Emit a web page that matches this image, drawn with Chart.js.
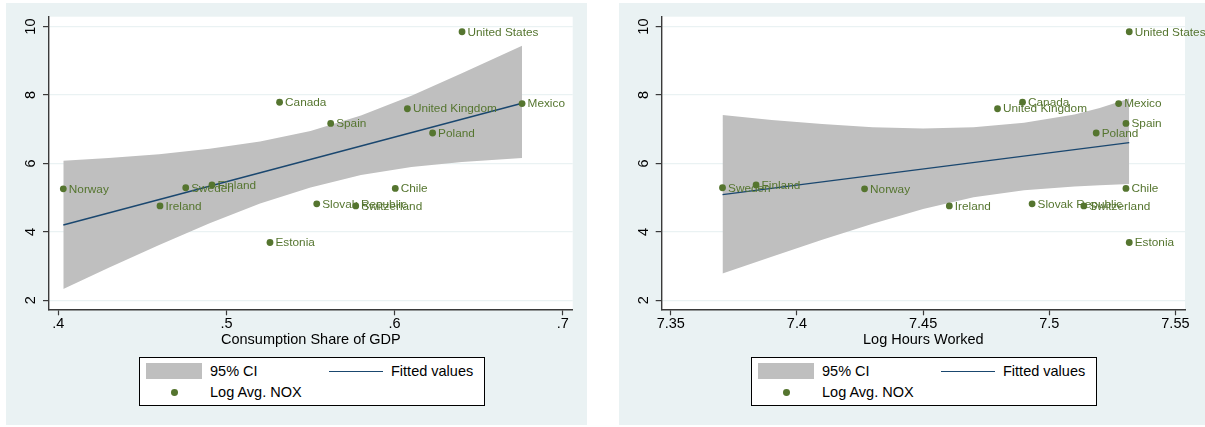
<!DOCTYPE html>
<html>
<head>
<meta charset="utf-8">
<script src="https://cdn.jsdelivr.net/npm/chart.js@4/dist/chart.umd.min.js"></script>
<style>
  body { margin: 0; background: #fff; width: 1205px; height: 427px; position: relative; overflow: hidden; font-family: "Liberation Sans", Arial, sans-serif; }
  .panel { position: absolute; background: rgb(234,242,243); }
  canvas { position: absolute; top: 0; }
  .legend { position: absolute; top: 357px; width: 344px; height: 47px; background: #fff; border: 1px solid #000; }
  .legend div { position: absolute; }
  .legend .txt { font-size: 14.5px; line-height: 18px; height: 18px; color: #000; white-space: nowrap; }
  .legend .box { left: 6px; top: 5px; width: 56px; height: 16px; background: rgb(191,191,191); }
  .legend .ln { left: 189px; top: 13px; width: 54px; height: 1.4px; background: rgb(26,71,111); }
  .legend .dot { left: 31px; top: 31px; width: 6.8px; height: 6.8px; border-radius: 50%; background: rgb(85,117,47); }
</style>
</head>
<body>
<div class="panel" style="left:6px; top:3px; width:581px; height:422px;"></div>
<div class="panel" style="left:619px; top:3px; width:586px; height:422px;"></div>
<canvas id="chart1" width="600" height="427" style="left:0;"></canvas>
<canvas id="chart2" width="605" height="427" style="left:600px;"></canvas>

<div class="legend" style="left:139px;">
  <div class="box"></div><div class="txt" style="left:70px; top:4px;">95% CI</div>
  <div class="ln"></div><div class="txt" style="left:251px; top:4px;">Fitted values</div>
  <div class="dot"></div><div class="txt" style="left:70px; top:25px;">Log Avg. NOX</div>
</div>
<div class="legend" style="left:751px;">
  <div class="box"></div><div class="txt" style="left:70px; top:4px;">95% CI</div>
  <div class="ln"></div><div class="txt" style="left:251px; top:4px;">Fitted values</div>
  <div class="dot"></div><div class="txt" style="left:70px; top:25px;">Log Avg. NOX</div>
</div>

<script>
var countries = ['Norway', 'Sweden', 'Finland', 'Ireland', 'Estonia', 'Canada', 'Spain', 'Slovak Republic',
    'Switzerland', 'Chile', 'United Kingdom', 'Poland', 'Mexico', 'United States'];
var logNox = [5.26, 5.29, 5.37, 4.76, 3.69, 7.79, 7.17, 4.82, 4.76, 5.27, 7.60, 6.89, 7.75, 9.85];
var consShare = [0.403, 0.4758, 0.4914, 0.4605, 0.5259, 0.5316, 0.562, 0.5537, 0.5769, 0.6004, 0.6076, 0.6226, 0.6758, 0.6401];
var logHours = [7.4268, 7.3705, 7.3838, 7.4604, 7.5317, 7.4894, 7.5304, 7.4932, 7.5137, 7.5304, 7.4795, 7.5186, 7.5275, 7.5317];

// fitted line and 95% band, consumption share panel
var fitShareX = [0.403, 0.6758];
var fitShareY = [4.20, 7.76];
var ciShareX = [0.403, 0.43, 0.46, 0.49, 0.52, 0.55, 0.58, 0.61, 0.64, 0.6758];
var ciShareHi = [6.08, 6.16, 6.27, 6.43, 6.64, 6.95, 7.40, 7.98, 8.64, 9.44];
var ciShareLo = [2.33, 2.95, 3.62, 4.25, 4.83, 5.30, 5.66, 5.90, 6.04, 6.16];

// fitted line and 95% band, hours worked panel
var fitHoursX = [7.3705, 7.5317];
var fitHoursY = [5.09, 6.61];
var ciHoursX = [7.3705, 7.39, 7.41, 7.43, 7.45, 7.47, 7.49, 7.51, 7.52, 7.5317];
var ciHoursHi = [7.42, 7.27, 7.15, 7.06, 7.02, 7.06, 7.19, 7.43, 7.62, 7.90];
var ciHoursLo = [2.78, 3.27, 3.77, 4.24, 4.67, 5.01, 5.22, 5.33, 5.36, 5.40];

var noxTicks = [2, 4, 6, 8, 10];
var noxTickLabels = ['2', '4', '6', '8', '10'];
var shareTicks = [0.4, 0.5, 0.6, 0.7];
var shareTickLabels = ['.4', '.5', '.6', '.7'];
var hoursTicks = [7.35, 7.4, 7.45, 7.5, 7.55];
var hoursTickLabels = ['7.35', '7.4', '7.45', '7.5', '7.55'];

var green = 'rgb(85,117,47)';
var navy = 'rgb(26,71,111)';
var ciGray = 'rgb(191,191,191)';
var axisColor = '#3a3a3a';
var gridColor = 'rgb(234,242,243)';

Chart.defaults.font.family = '"Liberation Sans", Arial, sans-serif';
Chart.defaults.color = '#000';

function pairs(xs, ys) {
    return xs.map(function(x, i) { return { x: x, y: ys[i] }; });
}

var plotBackground = {
    id: 'plotBackground',
    beforeDraw: function(chart) {
        var a = chart.chartArea;
        chart.ctx.save();
        chart.ctx.fillStyle = '#fff';
        chart.ctx.fillRect(a.left, a.top, a.right - a.left, a.bottom - a.top);
        chart.ctx.restore();
    }
};

var countryLabels = {
    id: 'countryLabels',
    afterDatasetsDraw: function(chart) {
        var ctx = chart.ctx;
        ctx.save();
        ctx.font = '11.8px "Liberation Sans", Arial, sans-serif';
        ctx.fillStyle = green;
        ctx.textBaseline = 'middle';
        chart.getDatasetMeta(0).data.forEach(function(pt, i) {
            ctx.fillText(countries[i], pt.x + 5.5, pt.y + 0.5);
        });
        ctx.restore();
    }
};

function makePanel(id, xs, fitX, fitY, ciX, ciHi, ciLo, xr, xTicks, xLabels, xTitle, yWidth, padRight) {
    return new Chart(document.getElementById(id).getContext('2d'), {
        type: 'line',
        plugins: [plotBackground, countryLabels],
        data: {
            datasets: [
                { data: pairs(xs, logNox), showLine: false, pointRadius: 3.4, pointBackgroundColor: green,
                  pointBorderWidth: 0, order: 0 },
                { data: pairs(fitX, fitY), borderColor: navy, borderWidth: 1.4, pointRadius: 0, fill: false, order: 1 },
                { data: pairs(ciX, ciHi), borderWidth: 0, pointRadius: 0, backgroundColor: ciGray, fill: '+1', order: 2 },
                { data: pairs(ciX, ciLo), borderWidth: 0, pointRadius: 0, fill: false, order: 3 }
            ]
        },
        options: {
            responsive: false,
            animation: false,
            events: [],
            layout: { padding: { left: 0, top: 16.7, right: padRight, bottom: 77.7 } },
            plugins: { legend: { display: false }, tooltip: { enabled: false } },
            scales: {
                x: {
                    type: 'linear', min: xr[0], max: xr[1],
                    afterBuildTicks: function(s) { s.ticks = xTicks.map(function(v) { return { value: v }; }); },
                    afterFit: function(s) { s.height = 40; },
                    ticks: { font: { size: 14.5 }, padding: 0, maxRotation: 0,
                             callback: function(v, i) { return xLabels[i]; } },
                    grid: { drawOnChartArea: false, drawTicks: true, tickLength: 6, tickColor: axisColor, tickWidth: 1.2 },
                    border: { display: true, color: axisColor, width: 1.4 },
                    title: { display: true, text: xTitle, font: { size: 14.5 }, padding: { top: 0, bottom: 0.6 } }
                },
                y: {
                    type: 'linear', min: 1.737, max: 10.29,
                    afterBuildTicks: function(s) { s.ticks = noxTicks.map(function(v) { return { value: v }; }); },
                    afterFit: function(s) { s.width = yWidth; },
                    ticks: { font: { size: 14.5 }, padding: 3.5, minRotation: 90, maxRotation: 90, crossAlign: 'center',
                             callback: function(v, i) { return noxTickLabels[i]; } },
                    grid: { color: gridColor, lineWidth: 1.2, drawTicks: true, tickLength: 6, tickColor: axisColor, tickWidth: 1.2 },
                    border: { display: true, color: axisColor, width: 1.4 }
                }
            }
        }
    });
}

makePanel('chart1', consShare, fitShareX, fitShareY, ciShareX, ciShareHi, ciShareLo,
    [0.3945, 0.7059], shareTicks, shareTickLabels, 'Consumption Share of GDP', 49, 27.3);
makePanel('chart2', logHours, fitHoursX, fitHoursY, ciHoursX, ciHoursHi, ciHoursLo,
    [7.3464, 7.5538], hoursTicks, hoursTickLabels, 'Log Hours Worked', 61.7, 20);
</script>
</body>
</html>
